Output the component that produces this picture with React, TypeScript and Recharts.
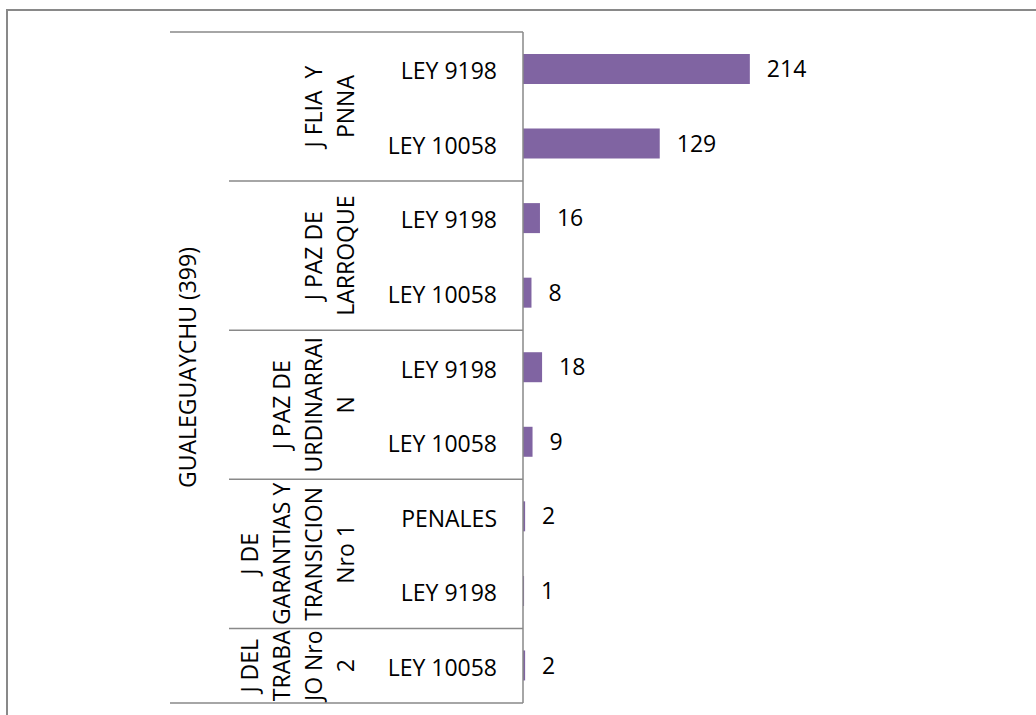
import React from "react";
import { BarChart, Bar, XAxis, YAxis, LabelList } from "recharts";

const regionLabel = "GUALEGUAYCHU (399)";
const groupNames: string[][] = [
  ["J FLIA  Y", "PNNA"],
  ["J PAZ DE", "LARROQUE"],
  ["J PAZ DE", "URDINARRAI", "N"],
  ["J DE", "GARANTIAS Y", "TRANSICION", "Nro 1"],
  ["J DEL", "TRABA", "JO Nro", "2"],
];
const groupOf = [0, 0, 1, 1, 2, 2, 3, 3, 4];
const categories = [
  "LEY 9198",
  "LEY 10058",
  "LEY 9198",
  "LEY 10058",
  "LEY 9198",
  "LEY 10058",
  "PENALES",
  "LEY 9198",
  "LEY 10058",
];
const values = [214, 129, 16, 8, 18, 9, 2, 1, 2];

const data = categories.map((c, i) => ({ id: `r${i}`, cat: c, group: groupOf[i], value: values[i] }));

const W = 1036;
const H = 715;
const M = { top: 32, right: 36, bottom: 12, left: 170 };
const AXIS_W = 353;
const AXIS_X = M.left + AXIS_W;
const PLOT_H = H - M.top - M.bottom;
const BAND = PLOT_H / data.length;
const LINE = "#898989";
const FONT = "'Open Sans', sans-serif";
const FS = 23;

const Tick = (props: any) => {
  const { y, index } = props;
  const i = index as number;
  const g = groupOf[i];
  const first = i === 0 || groupOf[i - 1] !== g;
  const top = y - BAND / 2;
  const count = groupOf.filter((v) => v === g).length;
  const els: React.ReactNode[] = [];
  els.push(
    <text key="c" x={AXIS_X - 26} y={y + 1} textAnchor="end" dominantBaseline="central" fontFamily={FONT} fontSize={FS} fill="#000">
      {categories[i]}
    </text>
  );
  if (i === 0) {
    els.push(<line key="t" x1={M.left} x2={AXIS_X} y1={top} y2={top} stroke={LINE} strokeWidth={1.5} />);
    const cy = M.top + PLOT_H / 2;
    const cx = 187;
    els.push(
      <text key="r" x={cx} y={cy} textAnchor="middle" dominantBaseline="central" fontFamily={FONT} fontSize={FS} fill="#000" transform={`rotate(-90, ${cx}, ${cy})`}>
        {regionLabel}
      </text>
    );
  }
  if (first) {
    if (i !== 0) {
      els.push(<line key="g" x1={229} x2={AXIS_X} y1={top} y2={top} stroke={LINE} strokeWidth={1.5} />);
    }
    const lines = groupNames[g];
    const cy = top + (count * BAND) / 2;
    lines.forEach((ln, k) => {
      const cx = 345 - (lines.length - 1 - k) * 32;
      els.push(
        <text key={`l${k}`} x={cx} y={cy} textAnchor="middle" dominantBaseline="central" fontFamily={FONT} fontSize={FS} fill="#000" style={{ whiteSpace: "pre" }} transform={`rotate(-90, ${cx}, ${cy})`}>
          {ln}
        </text>
      );
    });
  }
  if (i === data.length - 1) {
    const bottom = y + BAND / 2;
    els.push(<line key="b" x1={M.left} x2={AXIS_X} y1={bottom} y2={bottom} stroke={LINE} strokeWidth={1.5} />);
  }
  return <g>{els}</g>;
};

export default function App() {
  return (
    <div style={{ position: "absolute", left: 0, top: 0, width: W, height: H, overflow: "hidden", background: "#fff" }}>
      <div style={{ position: "absolute", left: 6, top: 9, width: 1300, height: 1000, border: `2px solid ${LINE}` }} />
      <div style={{ position: "absolute", left: 0, top: 0 }}>
        <BarChart width={W} height={H} data={data} layout="vertical" margin={M} barCategoryGap="20%">
          <XAxis type="number" domain={[0, 450]} hide />
          <YAxis
            type="category"
            dataKey="id"
            width={AXIS_W}
            axisLine={{ stroke: LINE, strokeWidth: 1.5 }}
            tickLine={false}
            tick={<Tick />}
            interval={0}
          />
          <Bar dataKey="value" fill="#8064A2" barSize={30} isAnimationActive={false}>
            <LabelList dataKey="value" position="right" offset={17} fill="#000" fontSize={FS} fontFamily={FONT} />
          </Bar>
        </BarChart>
      </div>
    </div>
  );
}
